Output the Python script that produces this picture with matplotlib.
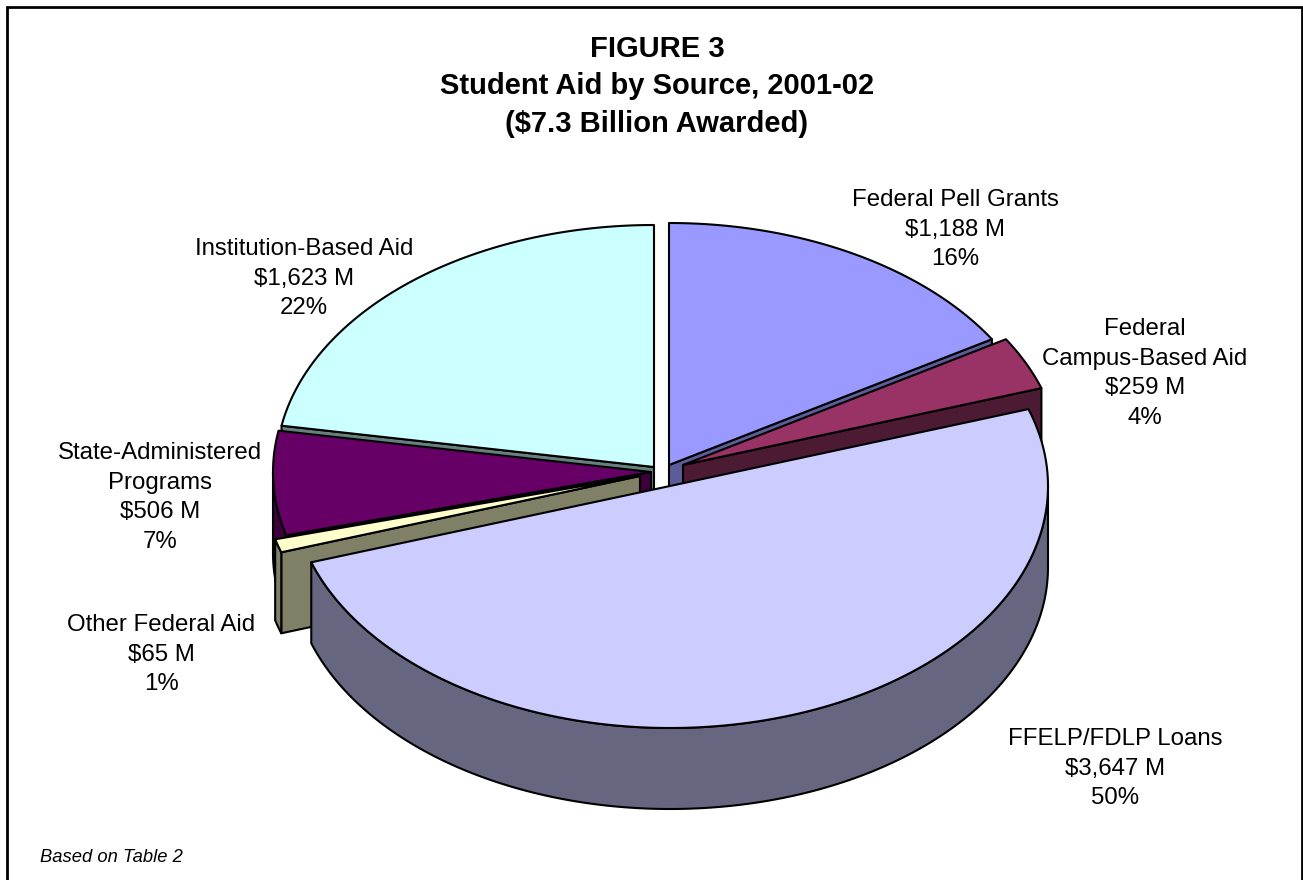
import numpy as np
import matplotlib
matplotlib.use("Agg")
import matplotlib.pyplot as plt
from matplotlib.patches import Polygon, Rectangle

# ---- data ----
categories = ["Federal Pell Grants", "Federal\nCampus-Based Aid", "FFELP/FDLP Loans",
              "Other Federal Aid", "State-Administered\nPrograms", "Institution-Based Aid"]
amounts = [1188, 259, 3647, 65, 506, 1623]
amount_labels = ["$1,188 M", "$259 M", "$3,647 M", "$65 M", "$506 M", "$1,623 M"]
percent_labels = ["16%", "4%", "50%", "1%", "7%", "22%"]
top_colors = ["#9999FF", "#993366", "#CCCCFF", "#FFFFCC", "#660066", "#CCFFFF"]
side_colors = ["#5C5C99", "#4D1A33", "#666680", "#808066", "#3D003D", "#668080"]

# ---- layout (pixels) ----
W, H = 1303, 880
RX, RY, DEPTH = 378, 242, 81
apex_x = [669, 683, 670, 640, 651, 654]
apex_y = [465, 465, 486, 476, 472, 467]
label_x = [955, 1145, 1115, 161, 160, 304]
label_y = [189, 318, 728, 614, 442, 238]
draw_order = [5, 0, 1, 4, 3, 2]

fig = plt.figure(figsize=(W / 100, H / 100), dpi=100)
ax = fig.add_axes([0, 0, 1, 1])
ax.set_xlim(0, W)
ax.set_ylim(H, 0)
ax.axis("off")
plt.rcParams["font.family"] = ["Liberation Sans", "DejaVu Sans"]

ax.add_patch(Rectangle((7, 7), W - 8, H + 20, fc="white", ec="black", lw=2))

fracs = np.array(amounts, dtype=float) / sum(amounts)
edges = np.concatenate([[0], np.cumsum(fracs)]) * 2 * np.pi
LW = 1.5


def arc(cx, cy, t0, t1):
    t = np.linspace(t0, t1, max(int((t1 - t0) * 90), 2))
    return np.column_stack([cx + RX * np.sin(t), cy - RY * np.cos(t)])


for i in draw_order:
    t0, t1 = edges[i], edges[i + 1]
    cx, cy = apex_x[i], apex_y[i]
    shift = np.array([0, DEPTH])
    apex = np.array([cx, cy])
    # radial cut faces turned to the viewer
    for t, show in ((t0, np.sin(t0) < -1e-6), (t1, np.sin(t1) > 1e-6)):
        if show:
            p = arc(cx, cy, t, t + 1e-3)[0]
            ax.add_patch(Polygon([apex, p, p + shift, apex + shift], closed=True,
                                 fc=side_colors[i], ec="black", lw=LW, joinstyle="round"))
    # outer wall, front half only
    a, b = max(t0, np.pi / 2), min(t1, 3 * np.pi / 2)
    if b > a:
        rim = arc(cx, cy, a, b)
        ax.add_patch(Polygon(np.vstack([rim, rim[::-1] + shift]), closed=True,
                             fc=side_colors[i], ec="black", lw=LW, joinstyle="round"))
    # top surface
    ax.add_patch(Polygon(np.vstack([apex, arc(cx, cy, t0, t1)]), closed=True,
                         fc=top_colors[i], ec="black", lw=LW, joinstyle="round"))

for i in range(len(categories)):
    ax.text(label_x[i], label_y[i],
            f"{categories[i]}\n{amount_labels[i]}\n{percent_labels[i]}",
            ha="center", va="top", fontsize=17.3, color="black", linespacing=1.45)

ax.text(657, 35, "FIGURE 3\nStudent Aid by Source, 2001-02\n($7.3 Billion Awarded)",
        ha="center", va="top", fontsize=21, fontweight="bold", linespacing=1.43)
ax.text(40, 857, "Based on Table 2", ha="left", va="center", fontsize=13.2, style="italic")

fig.savefig("out.png", dpi=100)
